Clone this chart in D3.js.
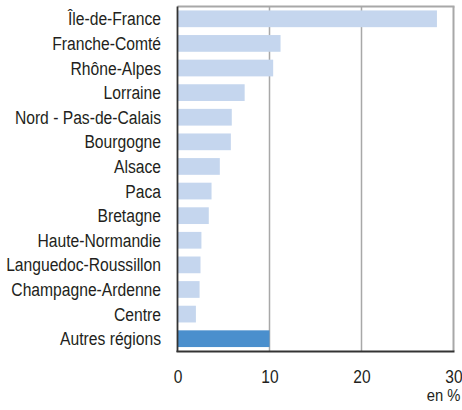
<!DOCTYPE html>
<html>
<head>
<meta charset="UTF-8">
<title>Régions</title>
<script src="https://cdn.jsdelivr.net/npm/d3@7"></script>
<style>
  body { margin: 0; background: #fff; }
  svg text { font-family: "Liberation Sans", Arial, sans-serif; fill: #231f20; }
</style>
</head>
<body>
<div id="chart"></div>
<script>
const regions = ["Île-de-France", "Franche-Comté", "Rhône-Alpes", "Lorraine", "Nord - Pas-de-Calais",
                 "Bourgogne", "Alsace", "Paca", "Bretagne", "Haute-Normandie",
                 "Languedoc-Roussillon", "Champagne-Ardenne", "Centre", "Autres régions"];
const values = [28.2, 11.2, 10.4, 7.3, 5.9, 5.8, 4.6, 3.7, 3.4, 2.6, 2.5, 2.4, 2.0, 10.0];
const xTicks = [0, 10, 20, 30];

const w = 462, h = 410;
const mLeft = 177.5, mRight = 453.5, mTop = 6.5, mBottom = 351;
// the original uses a condensed face, squeeze Liberation Sans to match
const squeeze = 0.87;

const svg = d3.select("#chart").append("svg")
  .attr("width", w)
  .attr("height", h);

const x = d3.scaleLinear().domain([0, 30]).range([mLeft, mRight]);
const y = d3.scaleBand().domain(regions).range([mTop, mBottom]).paddingInner(0.32).paddingOuter(0.16);

// grid lines
svg.append("g")
  .selectAll("line")
  .data(xTicks.slice(1))
  .join("line")
  .attr("x1", d => x(d)).attr("x2", d => x(d))
  .attr("y1", mTop).attr("y2", mBottom)
  .attr("stroke", "#a8a8a8")
  .attr("stroke-width", d => d === 30 ? 2 : 1.5);

// frame top
svg.append("line")
  .attr("x1", mLeft).attr("x2", mRight + 1)
  .attr("y1", mTop).attr("y2", mTop)
  .attr("stroke", "#a8a8a8")
  .attr("stroke-width", 2);

// bars
svg.append("g")
  .selectAll("rect")
  .data(values)
  .join("rect")
  .attr("x", x(0))
  .attr("y", (d, i) => y(regions[i]))
  .attr("width", d => x(d) - x(0))
  .attr("height", y.bandwidth())
  .attr("fill", (d, i) => regions[i] === "Autres régions" ? "#4a8fcd" : "#c5d6ee");

// axes
svg.append("line")
  .attr("x1", mLeft).attr("x2", mLeft)
  .attr("y1", mTop).attr("y2", mBottom + 1)
  .attr("stroke", "#333")
  .attr("stroke-width", 1.8);

svg.append("line")
  .attr("x1", mLeft - 1).attr("x2", mRight + 1)
  .attr("y1", mBottom + 0.5).attr("y2", mBottom + 0.5)
  .attr("stroke", "#333")
  .attr("stroke-width", 1.8);

const xAxis = d3.axisBottom(x).tickValues(xTicks).tickSize(0);
const gx = svg.append("g")
  .attr("transform", `translate(0, ${mBottom})`)
  .call(xAxis);
gx.select(".domain").remove();
gx.selectAll("text")
  .attr("y", 32.5)
  .attr("dy", null)
  .attr("transform", "scale(0.82,1)")
  .style("font-size", "19px")
  .attr("fill", "#231f20");

const yAxis = d3.axisLeft(y).tickSize(0);
const gy = svg.append("g")
  .attr("transform", `translate(${mLeft}, 0)`)
  .call(yAxis);
gy.select(".domain").remove();
gy.selectAll("text")
  .attr("x", -16.5 / squeeze)
  .attr("dy", "0.36em")
  .attr("transform", `scale(${squeeze},1)`)
  .style("font-size", "18px")
  .attr("fill", "#231f20");

svg.append("text")
  .text("en %")
  .attr("text-anchor", "end")
  .attr("transform", `translate(460.5, 400.5) scale(${squeeze},1)`)
  .style("font-size", "17px");
</script>
</body>
</html>
